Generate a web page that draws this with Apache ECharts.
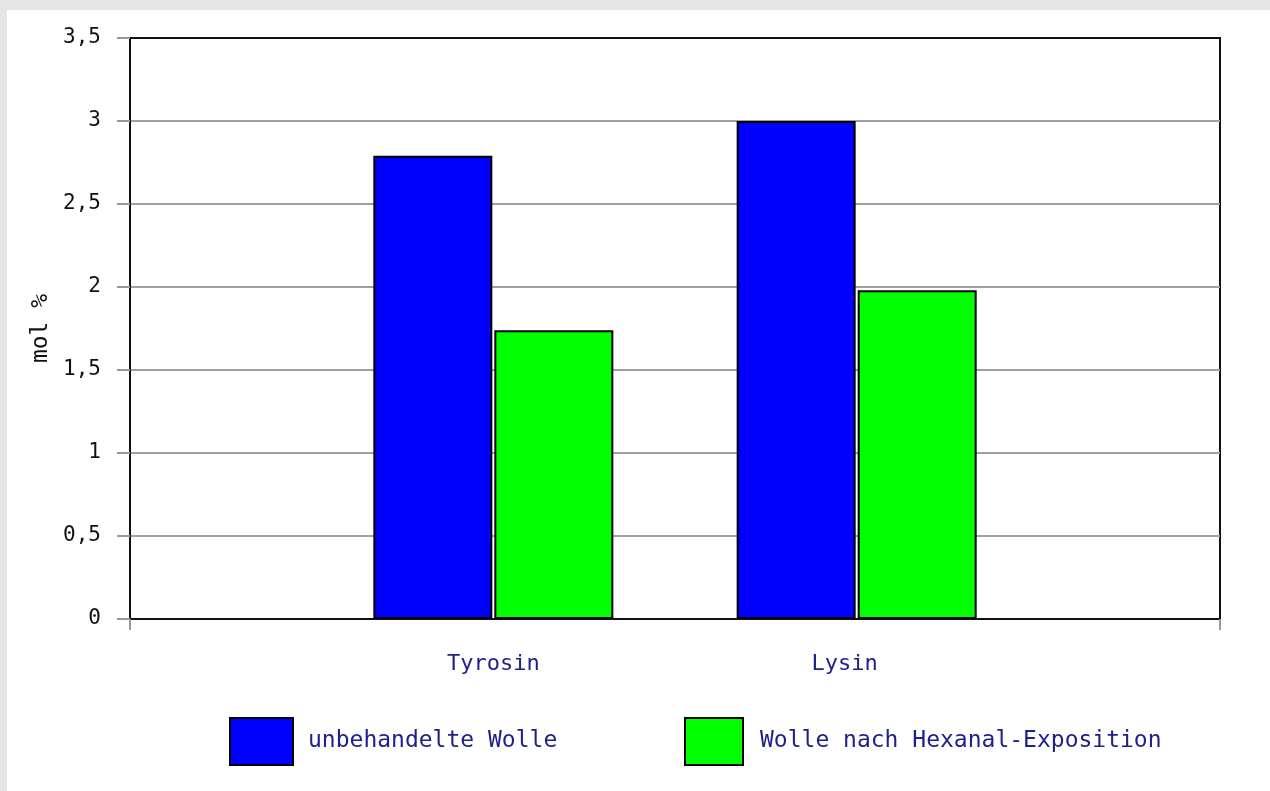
<!DOCTYPE html>
<html>
<head>
<meta charset="utf-8">
<script src="https://cdn.jsdelivr.net/npm/echarts@6/dist/echarts.min.js"></script>
<style>
  html, body { margin: 0; padding: 0; background: #e5e5e5; width: 1270px; height: 791px; overflow: hidden; }
  #chart { position: absolute; left: 7px; top: 10px; width: 1263px; height: 781px; background: #ffffff; }
</style>
</head>
<body>
<div id="chart"></div>
<script>
const categories = ['', 'Tyrosin', 'Lysin', ''];
const seriesNames = ['unbehandelte Wolle', 'Wolle nach Hexanal-Exposition'];
const untreated = [null, 2.79, 3.0, null];
const hexanal = [null, 1.74, 1.98, null];
const yTicks = { min: 0, max: 3.5, interval: 0.5 };

const FONT = 'DejaVu Sans Mono';
const NAVY = '#20208c';

const chart = echarts.init(document.getElementById('chart'));
chart.setOption({
  animation: false,
  backgroundColor: '#ffffff',
  grid: { left: 123, right: 50, top: 28, bottom: 172, show: true, borderColor: '#111', borderWidth: 2, backgroundColor: 'transparent' },
  legend: [
    { data: [seriesNames[0]], left: 222, top: 707, padding: 0, itemWidth: 63, itemHeight: 47, icon: 'rect',
      textStyle: { fontFamily: FONT, fontSize: 23, color: NAVY, padding: [8, 0, 0, 10] } },
    { data: [seriesNames[1]], left: 677, top: 707, padding: 0, itemWidth: 58, itemHeight: 47, icon: 'rect',
      textStyle: { fontFamily: FONT, fontSize: 23, color: NAVY, padding: [8, 0, 0, 12] } }
  ],
  xAxis: {
    type: 'category',
    data: categories.map(c => c === 'Lysin' ? { value: c, textStyle: { padding: [0, 24, 6, 0] } } : c),
    boundaryGap: false,
    axisLine: { lineStyle: { color: '#111', width: 2 } },
    axisTick: { interval: (i) => i === 0 || i === categories.length - 1, length: 11, lineStyle: { color: '#999', width: 2 } },
    axisLabel: { interval: 0, margin: 34, fontFamily: FONT, fontSize: 22, color: NAVY },
    splitLine: { show: false }
  },
  yAxis: {
    type: 'value',
    min: yTicks.min, max: yTicks.max, interval: yTicks.interval,
    name: 'mol %',
    nameLocation: 'middle',
    nameRotate: 90,
    nameGap: 70,
    nameTextStyle: { fontFamily: FONT, fontSize: 23, color: '#111' },
    axisLine: { show: true, lineStyle: { color: '#111', width: 2 } },
    axisTick: { show: true, length: 13, lineStyle: { color: '#999', width: 2 } },
    axisLabel: { margin: 29, fontFamily: FONT, fontSize: 21, color: '#111', padding: [8, 0, 0, 0],
      formatter: v => String(v).replace('.', ',') },
    splitLine: { show: true, showMaxLine: false, lineStyle: { color: '#a0a0a0', width: 2 } }
  },
  series: [
    { name: seriesNames[0], type: 'bar', data: untreated, barWidth: 119, barGap: '1.7%',
      itemStyle: { color: '#0000ff', borderColor: '#000', borderWidth: 2 } },
    { name: seriesNames[1], type: 'bar', data: hexanal, barWidth: 119,
      itemStyle: { color: '#00ff00', borderColor: '#000', borderWidth: 2 } }
  ]
});
</script>
</body>
</html>
